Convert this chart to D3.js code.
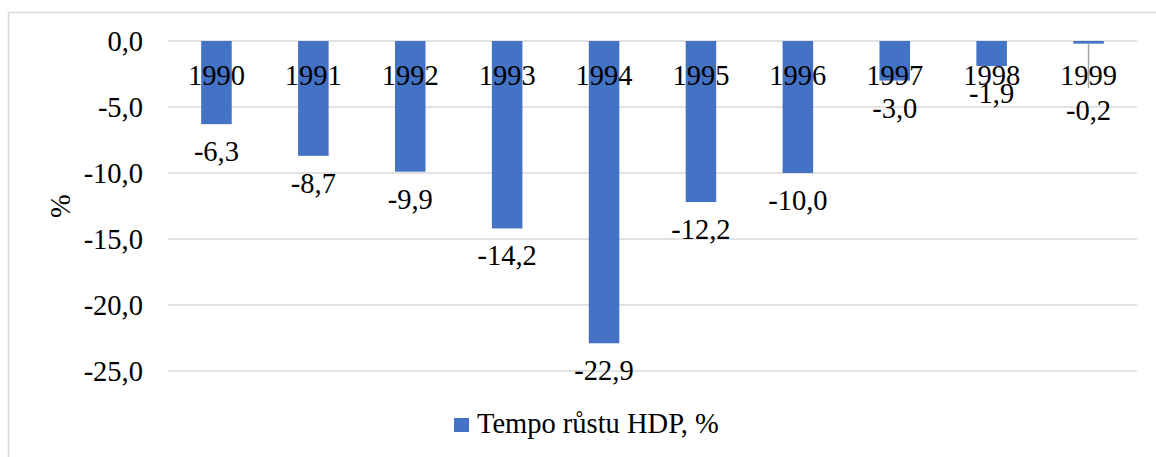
<!DOCTYPE html>
<html>
<head>
<meta charset="utf-8">
<script src="https://cdn.jsdelivr.net/npm/d3@7"></script>
<style>
  body { margin: 0; background: #fff; }
  svg { display: block; font-family: "Liberation Serif", "Times New Roman", serif; }
</style>
</head>
<body>
<svg id="chart" width="1156" height="457"></svg>
<script>
// data
const years = ["1990", "1991", "1992", "1993", "1994", "1995", "1996", "1997", "1998", "1999"];
const growth = [-6.3, -8.7, -9.9, -14.2, -22.9, -12.2, -10.0, -3.0, -1.9, -0.2];
const yTicks = [0, -5, -10, -15, -20, -25];
const seriesName = "Tempo růstu HDP, %";

const svg = d3.select("#chart");
const fmt = v => d3.format(".1f")(v).replace(".", ",").replace("−", "-");
const fontSize = 28.5;

// frame of the chart area
svg.append("rect")
    .attr("x", 8.5).attr("y", 12.5)
    .attr("width", 1160).attr("height", 460)
    .attr("fill", "none")
    .attr("stroke", "#d9d9d9")
    .attr("stroke-width", 1.5);

const plot = {left: 168, right: 1137, top: 41, bottom: 371};

const x = d3.scaleBand()
    .domain(years)
    .range([plot.left, plot.right])
    .paddingInner(0.685)
    .paddingOuter(0.3425);

const y = d3.scaleLinear()
    .domain([0, -25])
    .range([plot.top, plot.bottom]);

// gridlines
svg.append("g").selectAll("line")
    .data(yTicks)
    .enter().append("line")
    .attr("x1", plot.left).attr("x2", plot.right)
    .attr("y1", d => y(d)).attr("y2", d => y(d))
    .attr("stroke", "#d9d9d9")
    .attr("stroke-width", 1.5);

// y axis labels
let yAxis = svg.append("g")
    .attr("transform", "translate(" + 143 + ",0)")
    .call(d3.axisLeft(y).tickValues(yTicks).tickSize(0).tickPadding(0).tickFormat(fmt));
yAxis.select(".domain").remove();
yAxis.selectAll("text")
    .attr("font-family", "Liberation Serif")
    .attr("font-size", fontSize)
    .attr("fill", "#000");

svg.append("text")
    .attr("transform", "translate(" + 70 + "," + (plot.top + plot.bottom) / 2 + ") rotate(-90)")
    .attr("text-anchor", "middle")
    .attr("font-size", fontSize)
    .attr("fill", "#000")
    .text("%");

// bars
svg.append("g").selectAll("rect")
    .data(growth)
    .enter().append("rect")
    .attr("x", (d, i) => x(years[i]))
    .attr("y", y(0))
    .attr("width", x.bandwidth())
    .attr("height", d => y(d) - y(0))
    .attr("fill", "#4472c4");

// category labels, sitting just under the zero line
svg.append("g").selectAll("text")
    .data(years)
    .enter().append("text")
    .attr("x", d => x(d) + x.bandwidth() / 2)
    .attr("y", y(0) + 44)
    .attr("text-anchor", "middle")
    .attr("font-size", fontSize)
    .attr("fill", "#000")
    .text(d => d);

// data labels - tiny bars get their label pushed below the year text
function labelY(d){
    if(d > -1){
        return y(0) + 79;
    }
    return y(d) + 37;
}

// leader line for moved labels
svg.append("g").selectAll("line")
    .data(growth.map((d, i) => ({v: d, year: years[i]})).filter(d => d.v > -1))
    .enter().append("line")
    .attr("x1", d => x(d.year) + x.bandwidth() / 2)
    .attr("x2", d => x(d.year) + x.bandwidth() / 2)
    .attr("y1", d => y(d.v))
    .attr("y2", d => labelY(d.v) - 32)
    .attr("stroke", "#a6a6a6")
    .attr("stroke-width", 1.5);

svg.append("g").selectAll("text")
    .data(growth)
    .enter().append("text")
    .attr("x", (d, i) => x(years[i]) + x.bandwidth() / 2)
    .attr("y", d => labelY(d))
    .attr("text-anchor", "middle")
    .attr("font-size", fontSize)
    .attr("fill", "#000")
    .text(d => fmt(d));

// legend
let legend = svg.append("g").attr("transform", "translate(454,418)");
legend.append("rect")
    .attr("width", 15).attr("height", 14)
    .attr("fill", "#4472c4");
legend.append("text")
    .attr("x", 23).attr("y", 15)
    .attr("font-size", fontSize)
    .attr("fill", "#000")
    .text(seriesName);
</script>
</body>
</html>
